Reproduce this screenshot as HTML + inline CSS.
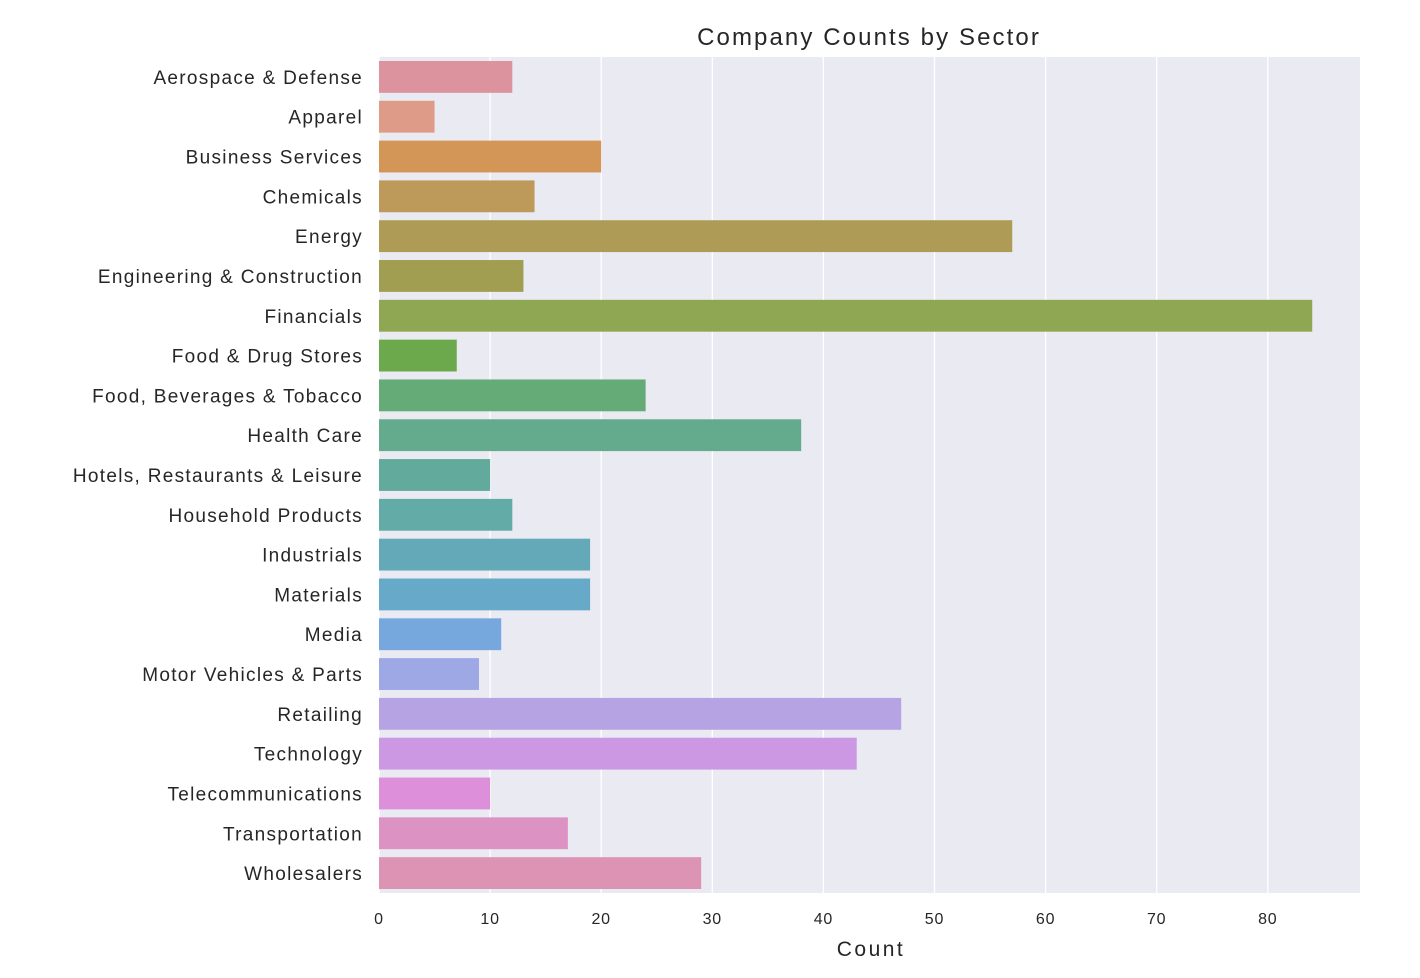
<!DOCTYPE html>
<html><head><meta charset="utf-8"><style>
html,body{margin:0;padding:0;background:#fff;}
svg{display:block;font-family:"Liberation Sans",Arial,sans-serif;}
</style></head><body>
<svg id="chart" width="1420" height="978">
<rect x="379" y="57" width="981" height="836" fill="#eaeaf2"/>
<g id="grid"></g><g id="bars"></g><g id="ylabels"></g><g id="xticks"></g>
<text x="869" y="45" text-anchor="middle" font-size="24" letter-spacing="2.1" fill="#262626">Company Counts by Sector</text>
<text x="871" y="956" text-anchor="middle" font-size="21" letter-spacing="2.5" fill="#262626">Count</text>
</svg>
<script>
const categories=["Aerospace & Defense","Apparel","Business Services","Chemicals","Energy","Engineering & Construction","Financials","Food & Drug Stores","Food, Beverages & Tobacco","Health Care","Hotels, Restaurants & Leisure","Household Products","Industrials","Materials","Media","Motor Vehicles & Parts","Retailing","Technology","Telecommunications","Transportation","Wholesalers"];
const counts=[12,5,20,14,57,13,84,7,24,38,10,12,19,19,11,9,47,43,10,17,29];
const xTicks=[0,10,20,30,40,50,60,70,80];
const colors=["#dc939d","#de9b87","#d39656","#bd9a5a","#ae9c56","#a19e51","#8fa653","#6ba94c","#64ab77","#64ab8e","#62aa9c","#62aba7","#64a9b7","#67a9c9","#76a8de","#9ea8e5","#b6a3e3","#cc98e3","#de8fd9","#dd92c4","#dd93b4"];
const NS="http://www.w3.org/2000/svg";
const X0=379,X1=1360,Y0=57,Y1=893,XMAX=88.3;
const xs=v=>X0+(v/XMAX)*(X1-X0);
const band=(Y1-Y0)/categories.length;
const ys=i=>Y0+i*band;
function mk(tag,attrs,parent){const e=document.createElementNS(NS,tag);for(const k in attrs)e.setAttribute(k,attrs[k]);parent.appendChild(e);return e;}
const grid=document.getElementById('grid'),bars=document.getElementById('bars'),yl=document.getElementById('ylabels'),xt=document.getElementById('xticks');
xTicks.forEach(t=>{
  const l=mk('line',{x1:xs(t),x2:xs(t),y1:Y0,y2:Y1,stroke:'#fff','stroke-width':1.3},grid);
  
  
  const tx=mk('text',{x:xs(t),y:924,'text-anchor':'middle','font-size':16,'letter-spacing':0.8,fill:'#262626'},xt);
  tx.textContent=t;
  
  
});
categories.forEach((c,i)=>{
  const bh=band*0.8;
  const r=mk('rect',{x:X0,y:ys(i)+band*0.1,width:xs(counts[i])-X0,height:bh,fill:colors[i]},bars);
  
  
  const t=mk('text',{x:363,y:ys(i)+band/2+7,'text-anchor':'end','font-size':19,'letter-spacing':1.3,fill:'#262626'},yl);
  t.textContent=c;
  
  
});
</script>
</body></html>
